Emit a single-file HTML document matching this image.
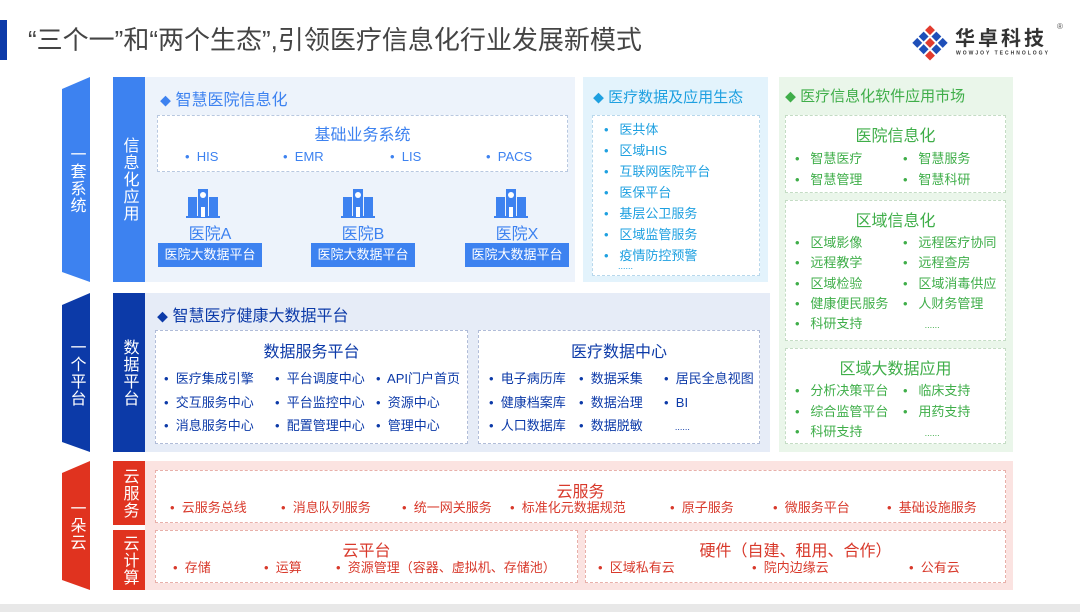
<!DOCTYPE html>
<html><head><meta charset="utf-8"><style>
*{margin:0;padding:0;box-sizing:border-box}
body{width:1080px;height:612px;background:#fff;position:relative;overflow:hidden;font-family:"Liberation Sans","Noto Sans CJK SC",sans-serif}
.a{position:absolute;white-space:nowrap}
.v{position:absolute;color:#fff;font-size:16px;line-height:19px;text-align:center;display:flex;align-items:center;justify-content:center;writing-mode:vertical-rl;letter-spacing:1px}
.d{position:absolute;border:1.5px dashed}
.t{font-size:13px;line-height:16px}
.h{font-size:16px}
</style></head><body>
<div class="a" style="left:0;top:20px;width:7px;height:40px;background:#0c3aa8"></div>
<div class="a" style="left:28px;top:24px;font-size:26px;color:#444;line-height:32px">“三个一”和“两个生态”,引领医疗信息化行业发展新模式</div>
<svg class="a" style="left:910px;top:25px" width="40" height="40" viewBox="0 0 40 40">
<g transform="translate(20,20) rotate(45)">
<rect x="-14" y="-14" width="7" height="7" fill="#e23b2e"/><rect x="-5" y="-14" width="7" height="7" fill="#1f4fb8"/><rect x="4" y="-14" width="7" height="7" fill="#1f4fb8"/>
<rect x="-14" y="-5" width="7" height="7" fill="#1f4fb8"/><rect x="-5" y="-5" width="7" height="7" fill="#e23b2e"/><rect x="4" y="-5" width="7" height="7" fill="#1f4fb8"/>
<rect x="-14" y="4" width="7" height="7" fill="#1f4fb8"/><rect x="-5" y="4" width="7" height="7" fill="#1f4fb8"/><rect x="4" y="4" width="7" height="7" fill="#e23b2e"/>
</g></svg>
<div class="a" style="left:955px;top:27px;font-size:20px;line-height:24px;font-weight:bold;color:#333;letter-spacing:3px">华卓科技</div>
<div class="a" style="left:956px;top:51px;font-size:10px;line-height:10px;color:#333;letter-spacing:4px;font-weight:bold;transform:scale(0.5);transform-origin:0 0">WOWJOY TECHNOLOGY</div>
<div class="a" style="left:1057px;top:22px;font-size:8px;color:#555">®</div>

<!-- left tabs -->
<svg class="a" style="left:62px;top:77px" width="30" height="515">
<polygon points="0,12 28,0 28,205 0,195" fill="#3d82f0"/>
<polygon points="0,228 28,216 28,375 0,365" fill="#0c3aa8"/>
<polygon points="0,396 28,384 28,513 0,503" fill="#e0331f"/>
</svg>
<div class="v" style="left:62px;top:77px;width:28px;height:205px">一套系统</div>
<div class="v" style="left:62px;top:293px;width:28px;height:159px">一个平台</div>
<div class="v" style="left:62px;top:461px;width:28px;height:129px">一朵云</div>
<div class="v" style="left:113px;top:77px;width:32px;height:205px;background:#3d82f0">信息化应用</div>
<div class="v" style="left:113px;top:293px;width:32px;height:159px;background:#0c3aa8">数据平台</div>
<div class="v" style="left:113px;top:461px;width:32px;height:64px;background:#e0331f">云服务</div>
<div class="v" style="left:113px;top:530px;width:32px;height:60px;background:#e0331f">云计算</div>

<!-- section 1 -->
<div class="a" style="left:145px;top:77px;width:430px;height:205px;background:#edf3fb"></div>
<div class="a h" style="left:160px;top:86px;color:#3d82f0"><span style="font-size:11px">◆</span> 智慧医院信息化</div>
<div class="d" style="left:157px;top:115px;width:411px;height:57px;border-color:#b8c8e0;background:#fff"></div>
<div class="a h" style="left:157px;top:121px;width:411px;text-align:center;color:#3d82f0">基础业务系统</div>
<div class="a t" style="left:185px;top:149px;color:#3d82f0">•&nbsp; HIS</div>
<div class="a t" style="left:283px;top:149px;color:#3d82f0">•&nbsp; EMR</div>
<div class="a t" style="left:390px;top:149px;color:#3d82f0">•&nbsp; LIS</div>
<div class="a t" style="left:486px;top:149px;color:#3d82f0">•&nbsp; PACS</div>

<svg class="a" style="left:0;top:185px" width="580" height="35">
<g id="hp" fill="#3d82f0">
<rect x="198" y="4" width="10" height="28"/><rect x="188" y="12" width="9" height="20"/><rect x="209" y="12" width="9" height="20"/><rect x="186" y="31" width="34" height="2"/>
<circle cx="203" cy="10" r="3" fill="#fff"/><rect x="201" y="22" width="4" height="10" fill="#fff"/>
</g>
<use href="#hp" x="155"/><use href="#hp" x="308"/>
</svg>
<div class="a" style="left:158px;top:220px;width:104px;text-align:center;font-size:16px;color:#3d82f0">医院A</div>
<div class="a" style="left:311px;top:220px;width:104px;text-align:center;font-size:16px;color:#3d82f0">医院B</div>
<div class="a" style="left:465px;top:220px;width:104px;text-align:center;font-size:16px;color:#3d82f0">医院X</div>
<div class="a t" style="left:158px;top:243px;width:104px;height:24px;line-height:24px;background:#3d82f0;color:#fff;text-align:center">医院大数据平台</div>
<div class="a t" style="left:311px;top:243px;width:104px;height:24px;line-height:24px;background:#3d82f0;color:#fff;text-align:center">医院大数据平台</div>
<div class="a t" style="left:465px;top:243px;width:104px;height:24px;line-height:24px;background:#3d82f0;color:#fff;text-align:center">医院大数据平台</div>

<!-- ecosystem -->
<div class="a" style="left:583px;top:77px;width:185px;height:205px;background:#e3f3fc"></div>
<div class="a" style="left:593px;top:86px;font-size:15px;color:#1ea0e0"><span style="font-size:11px">◆</span> 医疗数据及应用生态</div>
<div class="d" style="left:592px;top:115px;width:168px;height:161px;border-color:#b8d8ec;background:#fff"></div>
<div class="a t" style="left:604px;top:119px;color:#1ea0e0;line-height:21px">•&nbsp;&nbsp; 医共体<br>•&nbsp;&nbsp; 区域HIS<br>•&nbsp;&nbsp; 互联网医院平台<br>•&nbsp;&nbsp; 医保平台<br>•&nbsp;&nbsp; 基层公卫服务<br>•&nbsp;&nbsp; 区域监管服务<br>•&nbsp;&nbsp; 疫情防控预警</div>
<div class="a" style="left:618px;top:261px;font-size:9px;color:#1ea0e0">......</div>

<!-- market -->
<div class="a" style="left:779px;top:77px;width:234px;height:375px;background:#eaf6ea"></div>
<div class="a" style="left:785px;top:85px;font-size:15px;color:#3fae49"><span style="font-size:11px">◆</span> 医疗信息化软件应用市场</div>
<div class="d" style="left:785px;top:115px;width:221px;height:78px;border-color:#c4dcc4;background:#fff"></div>
<div class="a h" style="left:785px;top:122px;width:221px;text-align:center;color:#3fae49">医院信息化</div>
<div class="a t" style="left:795px;top:148px;color:#3fae49;line-height:21px">•&nbsp;&nbsp; 智慧医疗<br>•&nbsp;&nbsp; 智慧管理</div>
<div class="a t" style="left:903px;top:148px;color:#3fae49;line-height:21px">•&nbsp;&nbsp; 智慧服务<br>•&nbsp;&nbsp; 智慧科研</div>
<div class="d" style="left:785px;top:200px;width:221px;height:141px;border-color:#c4dcc4;background:#fff"></div>
<div class="a h" style="left:785px;top:207px;width:221px;text-align:center;color:#3fae49">区域信息化</div>
<div class="a t" style="left:795px;top:233px;color:#3fae49;line-height:20.3px">•&nbsp;&nbsp; 区域影像<br>•&nbsp;&nbsp; 远程教学<br>•&nbsp;&nbsp; 区域检验<br>•&nbsp;&nbsp; 健康便民服务<br>•&nbsp;&nbsp; 科研支持</div>
<div class="a t" style="left:903px;top:233px;color:#3fae49;line-height:20.3px">•&nbsp;&nbsp; 远程医疗协同<br>•&nbsp;&nbsp; 远程查房<br>•&nbsp;&nbsp; 区域消毒供应<br>•&nbsp;&nbsp; 人财务管理<br>&nbsp;&nbsp;&nbsp;&nbsp;&nbsp;&nbsp;<span style="font-size:9px">......</span></div>
<div class="d" style="left:785px;top:348px;width:221px;height:96px;border-color:#c4dcc4;background:#fff"></div>
<div class="a h" style="left:785px;top:355px;width:221px;text-align:center;color:#3fae49">区域大数据应用</div>
<div class="a t" style="left:795px;top:381px;color:#3fae49;line-height:20.5px">•&nbsp;&nbsp; 分析决策平台<br>•&nbsp;&nbsp; 综合监管平台<br>•&nbsp;&nbsp; 科研支持</div>
<div class="a t" style="left:903px;top:381px;color:#3fae49;line-height:20.5px">•&nbsp;&nbsp; 临床支持<br>•&nbsp;&nbsp; 用药支持<br>&nbsp;&nbsp;&nbsp;&nbsp;&nbsp;&nbsp;<span style="font-size:9px">......</span></div>

<!-- platform -->
<div class="a" style="left:145px;top:293px;width:625px;height:159px;background:#e6ecf7"></div>
<div class="a h" style="left:157px;top:302px;color:#0c3aa8"><span style="font-size:11px">◆</span> 智慧医疗健康大数据平台</div>
<div class="d" style="left:155px;top:330px;width:313px;height:114px;border-color:#b0bcd8;background:#fff"></div>
<div class="a h" style="left:155px;top:338px;width:313px;text-align:center;color:#0c3aa8">数据服务平台</div>
<div class="a t" style="left:164px;top:367px;color:#0c3aa8;line-height:23.5px">•&nbsp; 医疗集成引擎<br>•&nbsp; 交互服务中心<br>•&nbsp; 消息服务中心</div>
<div class="a t" style="left:275px;top:367px;color:#0c3aa8;line-height:23.5px">•&nbsp; 平台调度中心<br>•&nbsp; 平台监控中心<br>•&nbsp; 配置管理中心</div>
<div class="a t" style="left:376px;top:367px;color:#0c3aa8;line-height:23.5px">•&nbsp; API门户首页<br>•&nbsp; 资源中心<br>•&nbsp; 管理中心</div>
<div class="d" style="left:478px;top:330px;width:282px;height:114px;border-color:#b0bcd8;background:#fff"></div>
<div class="a h" style="left:478px;top:338px;width:282px;text-align:center;color:#0c3aa8">医疗数据中心</div>
<div class="a t" style="left:489px;top:367px;color:#0c3aa8;line-height:23.5px">•&nbsp; 电子病历库<br>•&nbsp; 健康档案库<br>•&nbsp; 人口数据库</div>
<div class="a t" style="left:579px;top:367px;color:#0c3aa8;line-height:23.5px">•&nbsp; 数据采集<br>•&nbsp; 数据治理<br>•&nbsp; 数据脱敏</div>
<div class="a t" style="left:664px;top:367px;color:#0c3aa8;line-height:23.5px">•&nbsp; 居民全息视图<br>•&nbsp; BI<br>&nbsp;&nbsp;&nbsp;<span style="font-size:9px">......</span></div>

<!-- cloud -->
<div class="a" style="left:145px;top:461px;width:868px;height:129px;background:#fbe3e1"></div>
<div class="d" style="left:155px;top:470px;width:851px;height:53px;border-color:#e8b0aa;background:#fff"></div>
<div class="a h" style="left:155px;top:478px;width:851px;text-align:center;color:#d8392b">云服务</div>
<div class="a t" style="left:170px;top:500px;color:#d8392b">•&nbsp; 云服务总线</div>
<div class="a t" style="left:281px;top:500px;color:#d8392b">•&nbsp; 消息队列服务</div>
<div class="a t" style="left:402px;top:500px;color:#d8392b">•&nbsp; 统一网关服务</div>
<div class="a t" style="left:510px;top:500px;color:#d8392b">•&nbsp; 标准化元数据规范</div>
<div class="a t" style="left:670px;top:500px;color:#d8392b">•&nbsp; 原子服务</div>
<div class="a t" style="left:773px;top:500px;color:#d8392b">•&nbsp; 微服务平台</div>
<div class="a t" style="left:887px;top:500px;color:#d8392b">•&nbsp; 基础设施服务</div>
<div class="d" style="left:155px;top:530px;width:423px;height:53px;border-color:#e8b0aa;background:#fff"></div>
<div class="a h" style="left:155px;top:537px;width:423px;text-align:center;color:#d8392b">云平台</div>
<div class="a t" style="left:173px;top:560px;color:#d8392b">•&nbsp; 存储</div>
<div class="a t" style="left:264px;top:560px;color:#d8392b">•&nbsp; 运算</div>
<div class="a t" style="left:336px;top:560px;color:#d8392b">•&nbsp; 资源管理（容器、虚拟机、存储池）</div>
<div class="d" style="left:585px;top:530px;width:421px;height:53px;border-color:#e8b0aa;background:#fff"></div>
<div class="a h" style="left:585px;top:537px;width:421px;text-align:center;color:#d8392b">硬件（自建、租用、合作）</div>
<div class="a t" style="left:598px;top:560px;color:#d8392b">•&nbsp; 区域私有云</div>
<div class="a t" style="left:752px;top:560px;color:#d8392b">•&nbsp; 院内边缘云</div>
<div class="a t" style="left:909px;top:560px;color:#d8392b">•&nbsp; 公有云</div>

<div class="a" style="left:0;top:604px;width:1080px;height:8px;background:#e8e8e8"></div>
</body></html>
